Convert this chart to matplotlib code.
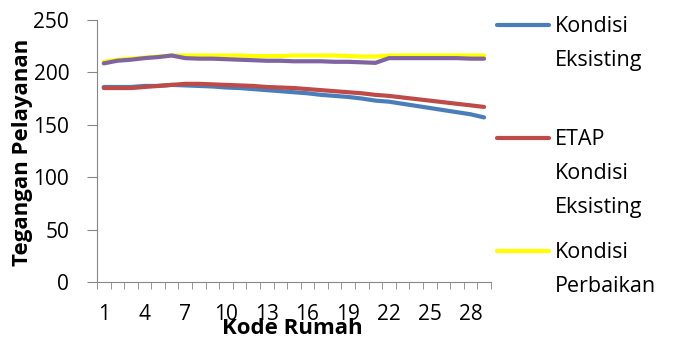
import matplotlib.pyplot as plt
from matplotlib.lines import Line2D

plt.rcParams['font.family'] = ['Open Sans', 'DejaVu Sans']

# data
kode_rumah = list(range(1, 30))
kondisi_eksisting = [186, 186, 186, 187, 187, 188, 187.5, 187, 186.5, 185.5, 185, 184, 183, 182, 181,
                     180, 178.5, 177.5, 176.5, 175, 173, 172, 170, 168, 166, 164, 162, 160, 157]
etap_eksisting = [185, 185, 185, 186, 187, 188, 189, 189, 188.5, 188, 187.5, 187, 186, 185.5, 185,
                  184, 183, 182, 181, 180, 178.5, 177.5, 176, 174.5, 173, 171.5, 170, 168.5, 167]
kondisi_perbaikan = [210, 212, 213, 214, 215, 216, 216, 216, 216, 216, 216, 215.5, 215.5, 215.5, 216,
                     216, 216, 216, 215.5, 215, 215, 216, 216, 216, 216, 216, 216, 216, 216]
etap_perbaikan = [208.5, 211, 212, 213.5, 214.5, 216, 213.5, 213, 213, 212.5, 212, 211.5, 211, 211, 210.5,
                  210.5, 210.5, 210, 210, 209.5, 209, 213.5, 213.5, 213.5, 213.5, 213.5, 213.5, 213, 213]

series = [
    ("Kondisi\nEksisting", kondisi_eksisting, '#4A7EBB'),
    ("ETAP\nKondisi\nEksisting", etap_eksisting, '#BE4B48'),
    ("Kondisi\nPerbaikan", kondisi_perbaikan, '#FFFF00'),
    (None, etap_perbaikan, '#8064A2'),
]

fig = plt.figure(figsize=(6.78, 3.42), dpi=100)
ax = fig.add_axes([0.143, 0.175, 0.581, 0.767])

for label, vals, color in series:
    ax.plot(kode_rumah, vals, color=color, linewidth=3, solid_capstyle='round')

ax.set_xlim(0.5, 29.5)
ax.set_ylim(0, 250)
ax.set_yticks(range(0, 251, 50))
ax.set_xticks(kode_rumah[::3])
ax.set_xticks([k - 0.5 for k in kode_rumah] + [29.5], minor=True)
ax.tick_params(axis='x', which='major', length=0, pad=16, labelsize=15)
ax.tick_params(axis='x', which='minor', length=5, color='#868686', direction='out')
ax.tick_params(axis='y', length=7, color='#868686', labelsize=15, pad=13)

for s in ['top', 'right']:
    ax.spines[s].set_visible(False)
for s in ['left', 'bottom']:
    ax.spines[s].set_color('#868686')

ax.set_xlabel('Kode Rumah', fontsize=16, fontweight='bold')
ax.xaxis.set_label_coords((292 - 97) / 394, (282 - 318) / 262)
ax.set_ylabel('Tegangan Pelayanan', fontsize=16, fontweight='bold')
ax.yaxis.set_label_coords((33 - 97) / 394, (282 - 152) / 262)

# legend drawn by hand so the handle lines up with the first text line
legend_y = [25, 138, 251]
for (label, vals, color), y in zip(series[:3], legend_y):
    yf = 1 - y / 342
    fig.add_artist(Line2D([497 / 678, 549 / 678], [yf, yf], color=color, linewidth=3,
                          solid_capstyle='round', transform=fig.transFigure))
    fig.text(555 / 678, 1 - (y - 9) / 342, label, fontsize=15.5, va='top', ha='left',
             linespacing=1.8, transform=fig.transFigure)

plt.savefig('out.png', dpi=100)
